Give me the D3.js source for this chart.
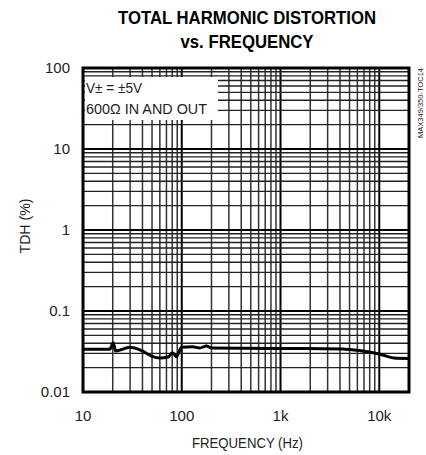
<!DOCTYPE html>
<html>
<head>
<meta charset="utf-8">
<script src="https://cdn.jsdelivr.net/npm/d3@7"></script>
<style>
  body { margin: 0; background: #fff; }
  text { font-family: "Liberation Sans Narrow", "Arial Narrow", "Liberation Sans", sans-serif; fill: #222; }
</style>
</head>
<body>
<svg id="chart" width="426" height="455"></svg>
<script>
// THD vs frequency
const freq = [10, 18.7, 20.2, 21.4, 29.8, 39.2, 49.4, 60, 72.7, 80.5, 88.4, 99.3, 129, 152, 178, 200, 1000, 4230, 6280, 10000, 14760, 20000];
const thd = [0.0337, 0.0337, 0.0406, 0.0321, 0.0356, 0.0324, 0.0278, 0.0263, 0.027, 0.0306, 0.0273, 0.0356, 0.0362, 0.0349, 0.037, 0.0349, 0.0345, 0.034, 0.0325, 0.0294, 0.0261, 0.026];

const xTicks = [10, 100, 1000, 10000];
const xTickLabels = ['10', '100', '1k', '10k'];
const yTicks = [0.01, 0.1, 1, 10, 100];
const yTickLabels = ['0.01', '0.1', '1', '10', '100'];

const titleLines = ['TOTAL HARMONIC DISTORTION', 'vs. FREQUENCY'];
const legendLines = ['V\u00b1 = \u00b15V', '600\u03a9 IN AND OUT'];

const margin = { top: 68, right: 17, bottom: 63, left: 83 };
const width = 426;
const height = 455;

const x = d3.scaleLog().domain([10, 20000]).range([margin.left, width - margin.right]);
const y = d3.scaleLog().domain([0.01, 100]).range([height - margin.bottom, margin.top]);

const svg = d3.select('#chart');

// grid
const isDecade = (v) => Math.abs(Math.log10(v) - Math.round(Math.log10(v))) < 1e-9;

svg.append('g')
  .selectAll('line')
  .data(x.ticks())
  .join('line')
  .attr('x1', (d) => x(d))
  .attr('x2', (d) => x(d))
  .attr('y1', y(100))
  .attr('y2', y(0.01))
  .attr('stroke', (d) => (isDecade(d) ? '#000' : '#333'))
  .attr('stroke-width', (d) => (isDecade(d) ? 2 : 1.5));

svg.append('g')
  .selectAll('line')
  .data(y.ticks())
  .join('line')
  .attr('x1', x(10))
  .attr('x2', x(20000))
  .attr('y1', (d) => y(d))
  .attr('y2', (d) => y(d))
  .attr('stroke', (d) => (isDecade(d) ? '#000' : '#222'))
  .attr('stroke-width', (d) => (isDecade(d) ? 2 : 1.4));

// legend box covers the grid
svg.append('rect')
  .attr('x', x(10) + 2)
  .attr('y', 77)
  .attr('width', 133)
  .attr('height', 43)
  .attr('fill', '#fff');

svg.append('g')
  .selectAll('text')
  .data(legendLines)
  .join('text')
  .attr('x', 86)
  .attr('y', (d, i) => 93 + i * 20.5)
  .attr('font-size', 15)
  .attr('textLength', (d, i) => [56, 121][i])
  .attr('lengthAdjust', 'spacingAndGlyphs')
  .text((d) => d);

// curve
const line = d3.line()
  .x((d, i) => x(freq[i]))
  .y((d) => y(d))
  .curve(d3.curveMonotoneX);

svg.append('path')
  .datum(thd)
  .attr('d', line)
  .attr('fill', 'none')
  .attr('stroke', '#000')
  .attr('stroke-width', 3)
  .attr('stroke-linejoin', 'round');

// frame
svg.append('rect')
  .attr('x', x(10))
  .attr('y', y(100))
  .attr('width', x(20000) - x(10))
  .attr('height', y(0.01) - y(100))
  .attr('fill', 'none')
  .attr('stroke', '#000')
  .attr('stroke-width', 3);

// tick labels
svg.append('g')
  .selectAll('text')
  .data(xTicks)
  .join('text')
  .attr('x', (d) => x(d))
  .attr('y', 421)
  .attr('text-anchor', 'middle')
  .attr('font-size', 15)
  .text((d, i) => xTickLabels[i]);

svg.append('g')
  .selectAll('text')
  .data(yTicks)
  .join('text')
  .attr('x', 70)
  .attr('y', (d) => y(d) + 5)
  .attr('text-anchor', 'end')
  .attr('font-size', 15)
  .text((d, i) => yTickLabels[i]);

// axis titles
svg.append('text')
  .attr('x', 247.5)
  .attr('y', 448)
  .attr('text-anchor', 'middle')
  .attr('font-size', 15)
  .attr('textLength', 111)
  .attr('lengthAdjust', 'spacingAndGlyphs')
  .text('FREQUENCY (Hz)');

svg.append('text')
  .attr('transform', 'translate(30,226) rotate(-90)')
  .attr('text-anchor', 'middle')
  .attr('font-size', 15)
  .attr('textLength', 55)
  .attr('lengthAdjust', 'spacingAndGlyphs')
  .text('TDH (%)');

// title
svg.append('g')
  .selectAll('text')
  .data(titleLines)
  .join('text')
  .attr('x', 247)
  .attr('y', (d, i) => 24 + i * 24)
  .attr('text-anchor', 'middle')
  .attr('font-size', 19)
  .attr('font-weight', 'bold')
  .attr('textLength', (d, i) => [258, 133][i])
  .attr('lengthAdjust', 'spacingAndGlyphs')
  .style('fill', '#000')
  .text((d) => d);

svg.append('text')
  .attr('transform', 'translate(423,68) rotate(-90)')
  .attr('text-anchor', 'end')
  .attr('font-size', 8)
  .attr('textLength', 70)
  .attr('lengthAdjust', 'spacingAndGlyphs')
  .text('MAX349/350-TOC14');
</script>
</body>
</html>
